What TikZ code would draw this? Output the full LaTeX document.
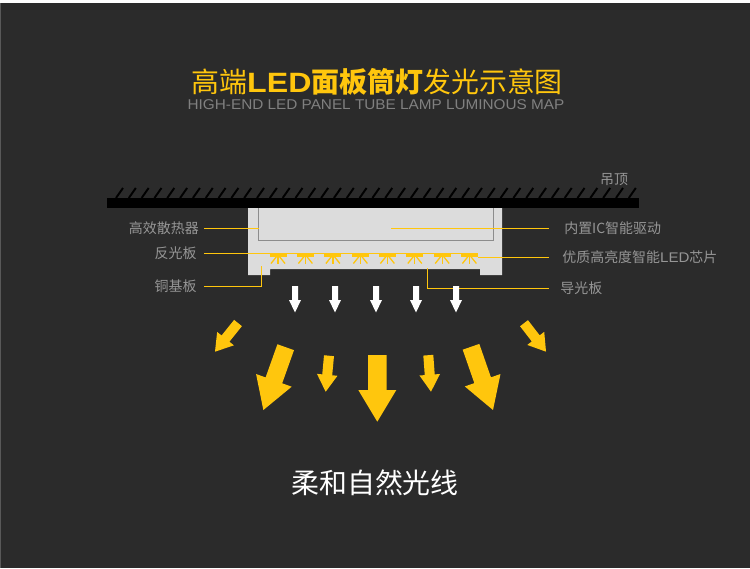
\documentclass[tikz,border=0pt]{standalone}
\usepackage{fontspec}
\setmainfont{Noto Sans CJK SC}
\newfontfamily\latinfont[FakeStretch=1.08]{Liberation Sans}
\newfontfamily\titlefont[FakeStretch=1.15]{Liberation Sans}
\usetikzlibrary{calc}
\definecolor{bgdark}{HTML}{2B2B2B}
\definecolor{lampyellow}{HTML}{FFC60D}
\definecolor{lampgrey}{HTML}{DCDCDC}
\definecolor{labelgrey}{HTML}{969696}
\begin{document}
\begin{tikzpicture}[
    x=0.02cm, y=-0.02cm,
    labeltext/.style={text=labelgrey, font=\fontsize{7.95pt}{9pt}\selectfont, inner ysep=0pt},
    leftlabel/.style={labeltext, anchor=east, inner xsep=#1},
    rightlabel/.style={labeltext, anchor=west, inner xsep=#1},
    leader/.style={draw=lampyellow, line width=0.5pt},
    led/.style={draw=lampyellow, line width=0.75pt},
    flow/.style={fill=lampyellow}
]
% background
\fill[bgdark] (0,0) rectangle (750,568);
\fill[white] (0,0) rectangle (750,3);
\fill[gray!70!black] (0,3) rectangle (1,568);
\useasboundingbox (0,0) rectangle (750,568);

% title
\node[text=lampyellow, inner sep=0pt, anchor=west] (title) at (191,82)
    {\fontsize{15.9pt}{18pt}\selectfont 高端\textbf{{\titlefont LED}面板筒灯}发光示意图};
\node[text=gray, inner sep=0pt] (subtitle) at (376,105)
    {\fontsize{8.07pt}{9pt}\selectfont\latinfont HIGH-END LED PANEL TUBE LAMP LUMINOUS MAP};

% ceiling
\fill[black] (107,198) rectangle (639,208);
\foreach \x in {0,...,40}
    \draw[black, line width=1.1pt] ({123+\x*12.82},188) -- ({116+\x*12.82},198);
\node[labeltext] (ceiling) at (614,180) {吊顶};

% lamp body
\fill[lampgrey] (248,208) -- (502,208) -- (502,275) -- (480,275) -- (480,269)
    -- (270,269) -- (270,275) -- (248,275) -- cycle;
\draw[gray!90, line width=0.6pt] (258.5,208) -- (258.5,240.5) -- (493.5,240.5) -- (493.5,208);
\foreach \x in {278,305.4,332.9,360.4,387.4,414.8,442.2,469.4} {
    \fill[lampyellow] (\x-8.5,253.5) rectangle (\x+8.5,257);
    \draw[led] (\x,256) -- (\x,264);
    \draw[led] (\x-1,256) -- (\x-7,263.5);
    \draw[led] (\x+1,256) -- (\x+7,263.5);
}

% labels
\node[leftlabel=2.8pt] (heatsink) at (204,228) {高效散热器};
\node[leftlabel=4pt] (reflector) at (204,253.5) {反光板};
\node[leftlabel=4pt] (copper) at (204,286.5) {铜基板};
\node[rightlabel=8.5pt] (driver) at (549,228) {内置IC智能驱动};
\node[rightlabel=7.4pt] (chip) at (549,257) {优质高亮度智能{\latinfont LED}芯片};
\node[rightlabel=6.3pt] (guide) at (549,288) {导光板};
\coordinate (heatsinkend) at (259,228);
\coordinate (reflectorend) at (478,253.5);
\coordinate (copperend) at (261.5,266);
\coordinate (driverend) at (391,228);
\coordinate (chipend) at (478,257);
\coordinate (guideend) at (427.5,268);
\draw[leader] (heatsink) -- (heatsinkend);
\draw[leader] (reflector) -- (reflectorend);
\draw[leader] (copper) -| (copperend);
\draw[leader] (driver) -- (driverend);
\draw[leader] (chip) -- (chipend);
\draw[leader] (guide) -| (guideend);

% light going out: x / y / angle / length / shaft / head / head length
\foreach \x in {295,335,376,416,456}
    \fill[white, shift={(\x,286)}] (-3,0) -- (3,0) -- (3,14) -- (6,14) -- (0,26.5)
        -- (-6,14) -- (-3,14) -- cycle;
\foreach \x/\y/\ang/\len/\sw/\hw/\hl in {
    238/323/-38.7/36.8/5/10.7/16.8,
    285.7/347.2/-19.6/66.7/8.8/18.9/31.5,
    329/355.7/-5.3/36.2/5/10.3/17,
    377.3/355/0/66.7/9.2/19/31.7,
    428.3/355.2/4.2/36.6/5/10.3/17,
    471/346.8/19.2/66.9/8.8/18.9/31.5,
    524/323.2/37.7/36/5/10.7/16.8}
    \fill[flow, shift={(\x,\y)}, rotate=\ang] (-\sw,0) -- (\sw,0) -- (\sw,\len-\hl)
        -- (\hw,\len-\hl) -- (0,\len) -- (-\hw,\len-\hl) -- (-\sw,\len-\hl) -- cycle;

\node[text=white, inner sep=0pt] (caption) at (375,483)
    {\fontsize{15.9pt}{18pt}\selectfont 柔和自然光线};
\end{tikzpicture}
\end{document}
